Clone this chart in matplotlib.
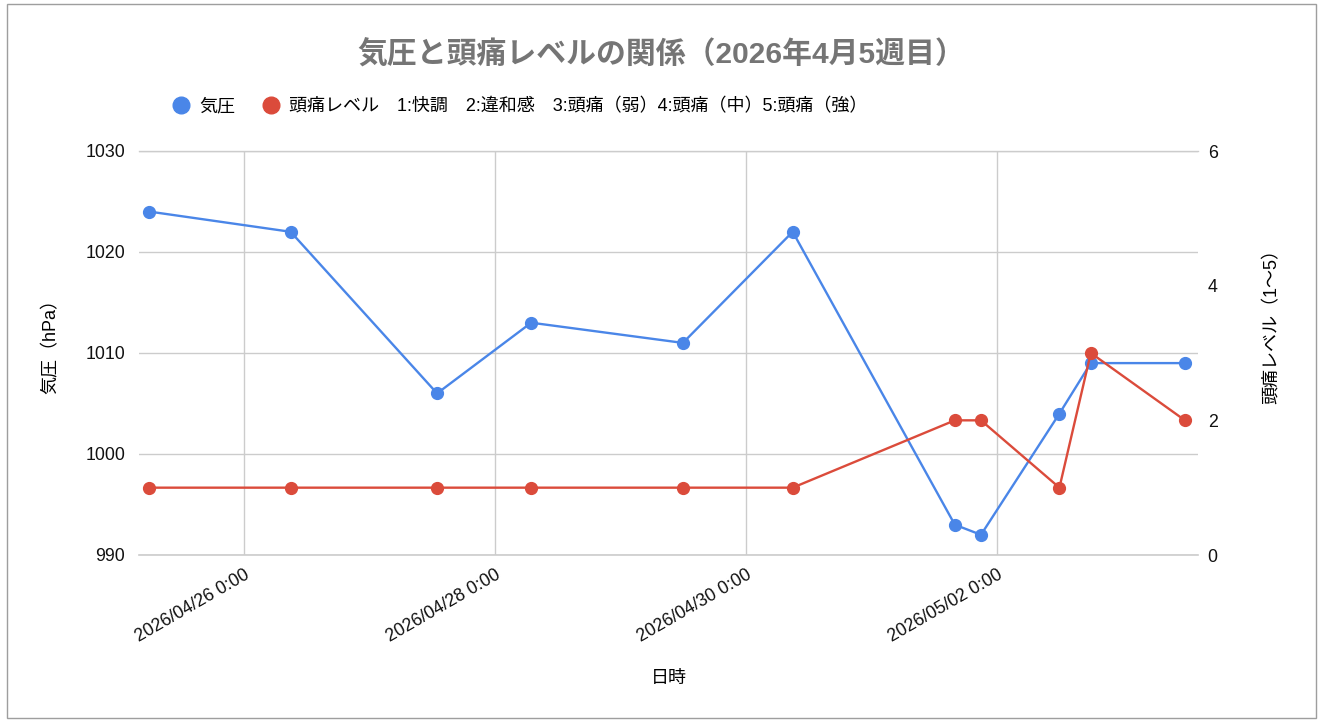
import matplotlib
matplotlib.use('Agg')
import matplotlib.pyplot as plt
from matplotlib.patches import Rectangle
from matplotlib.lines import Line2D
import pandas as pd

plt.rcParams['font.family'] = ['Liberation Sans', 'Noto Sans CJK JP', 'DejaVu Sans']

# データ
times = pd.to_datetime([
    '2026-04-25 06:00', '2026-04-26 09:00', '2026-04-27 13:00', '2026-04-28 07:00',
    '2026-04-29 12:00', '2026-04-30 09:00', '2026-05-01 16:00', '2026-05-01 21:00',
    '2026-05-02 12:00', '2026-05-02 18:00', '2026-05-03 12:00',
])
pressure = [1024, 1022, 1006, 1013, 1011, 1022, 993, 992, 1004, 1009, 1009]
headache = [1, 1, 1, 1, 1, 1, 2, 2, 1, 3, 2]

tick_dates = pd.to_datetime(['2026-04-26', '2026-04-28', '2026-04-30', '2026-05-02'])
blue = '#4a86e8'
red = '#db4b3b'
grid_c = '#cccccc'

fig = plt.figure(figsize=(13.22, 7.26), dpi=100)
fig.patch.set_facecolor('white')

# 外枠
fig.patches.append(Rectangle((7 / 1322, 1 - 718 / 726), 1309 / 1322, 714 / 726,
                             transform=fig.transFigure, fill=False,
                             edgecolor='#9e9e9e', linewidth=1))

ax = fig.add_axes([139 / 1322, 1 - 555 / 726, 1059 / 1322, 404 / 726])
ax2 = ax.twinx()

ax.plot(times, pressure, color=blue, linewidth=1.7, marker='o', markersize=8.5, zorder=3)
ax2.plot(times, headache, color=red, linewidth=1.7, marker='o', markersize=8.5, zorder=3)

ax.set_ylim(990, 1030)
ax.set_yticks([990, 1000, 1010, 1020, 1030])
ax2.set_ylim(0, 6)
ax2.set_yticks([0, 2, 4, 6])

ax.set_xlim(pd.Timestamp('2026-04-25 04:00'), pd.Timestamp('2026-05-03 14:30'))
ax.set_xticks(tick_dates)
ax.set_xticklabels([d.strftime('%Y/%m/%d') + ' 0:00' for d in tick_dates],
                   rotation=30, ha='right', rotation_mode='anchor')

ax.grid(True, color=grid_c, linewidth=1)
ax.axhline(990, color=grid_c, linewidth=1.2, clip_on=False, zorder=0.5)
ax.axhline(1030, color=grid_c, linewidth=1, clip_on=False, zorder=0.5)
ax.set_axisbelow(True)
for a in (ax, ax2):
    for s in a.spines.values():
        s.set_visible(False)
    a.tick_params(length=0, labelsize=12.8, colors='#111111')
ax.tick_params(axis='y', pad=10)
ax2.tick_params(axis='y', pad=7)
ax.tick_params(axis='x', pad=8)

ax.set_ylabel('気圧（hPa）', fontsize=13)
ax.yaxis.set_label_coords(-0.0746, 0.527)
ax2.set_ylabel('頭痛レベル（1〜5）', fontsize=13)
ax2.yaxis.set_label_coords(1.0614, 0.577)
ax.set_xlabel('日時', fontsize=13, labelpad=18)

fig.text(0.5, 1 - 55 / 726, '気圧と頭痛レベルの関係（2026年4月5週目）',
         ha='center', va='center', fontsize=21.5, fontweight='bold', color='#757575')

handles = [
    Line2D([], [], linestyle='none', marker='o', markersize=12, color=blue),
    Line2D([], [], linestyle='none', marker='o', markersize=12, color=red),
]
labels = ['気圧', '頭痛レベル　1:快調　2:違和感　3:頭痛（弱）4:頭痛（中）5:頭痛（強）']
fig.legend(handles, labels, loc='center left', bbox_to_anchor=(154 / 1322, 1 - 107 / 726),
           ncol=2, frameon=False, fontsize=13, handletextpad=0.4, columnspacing=1.4,
           handlelength=1.2)

fig.savefig('out.png', dpi=100)
